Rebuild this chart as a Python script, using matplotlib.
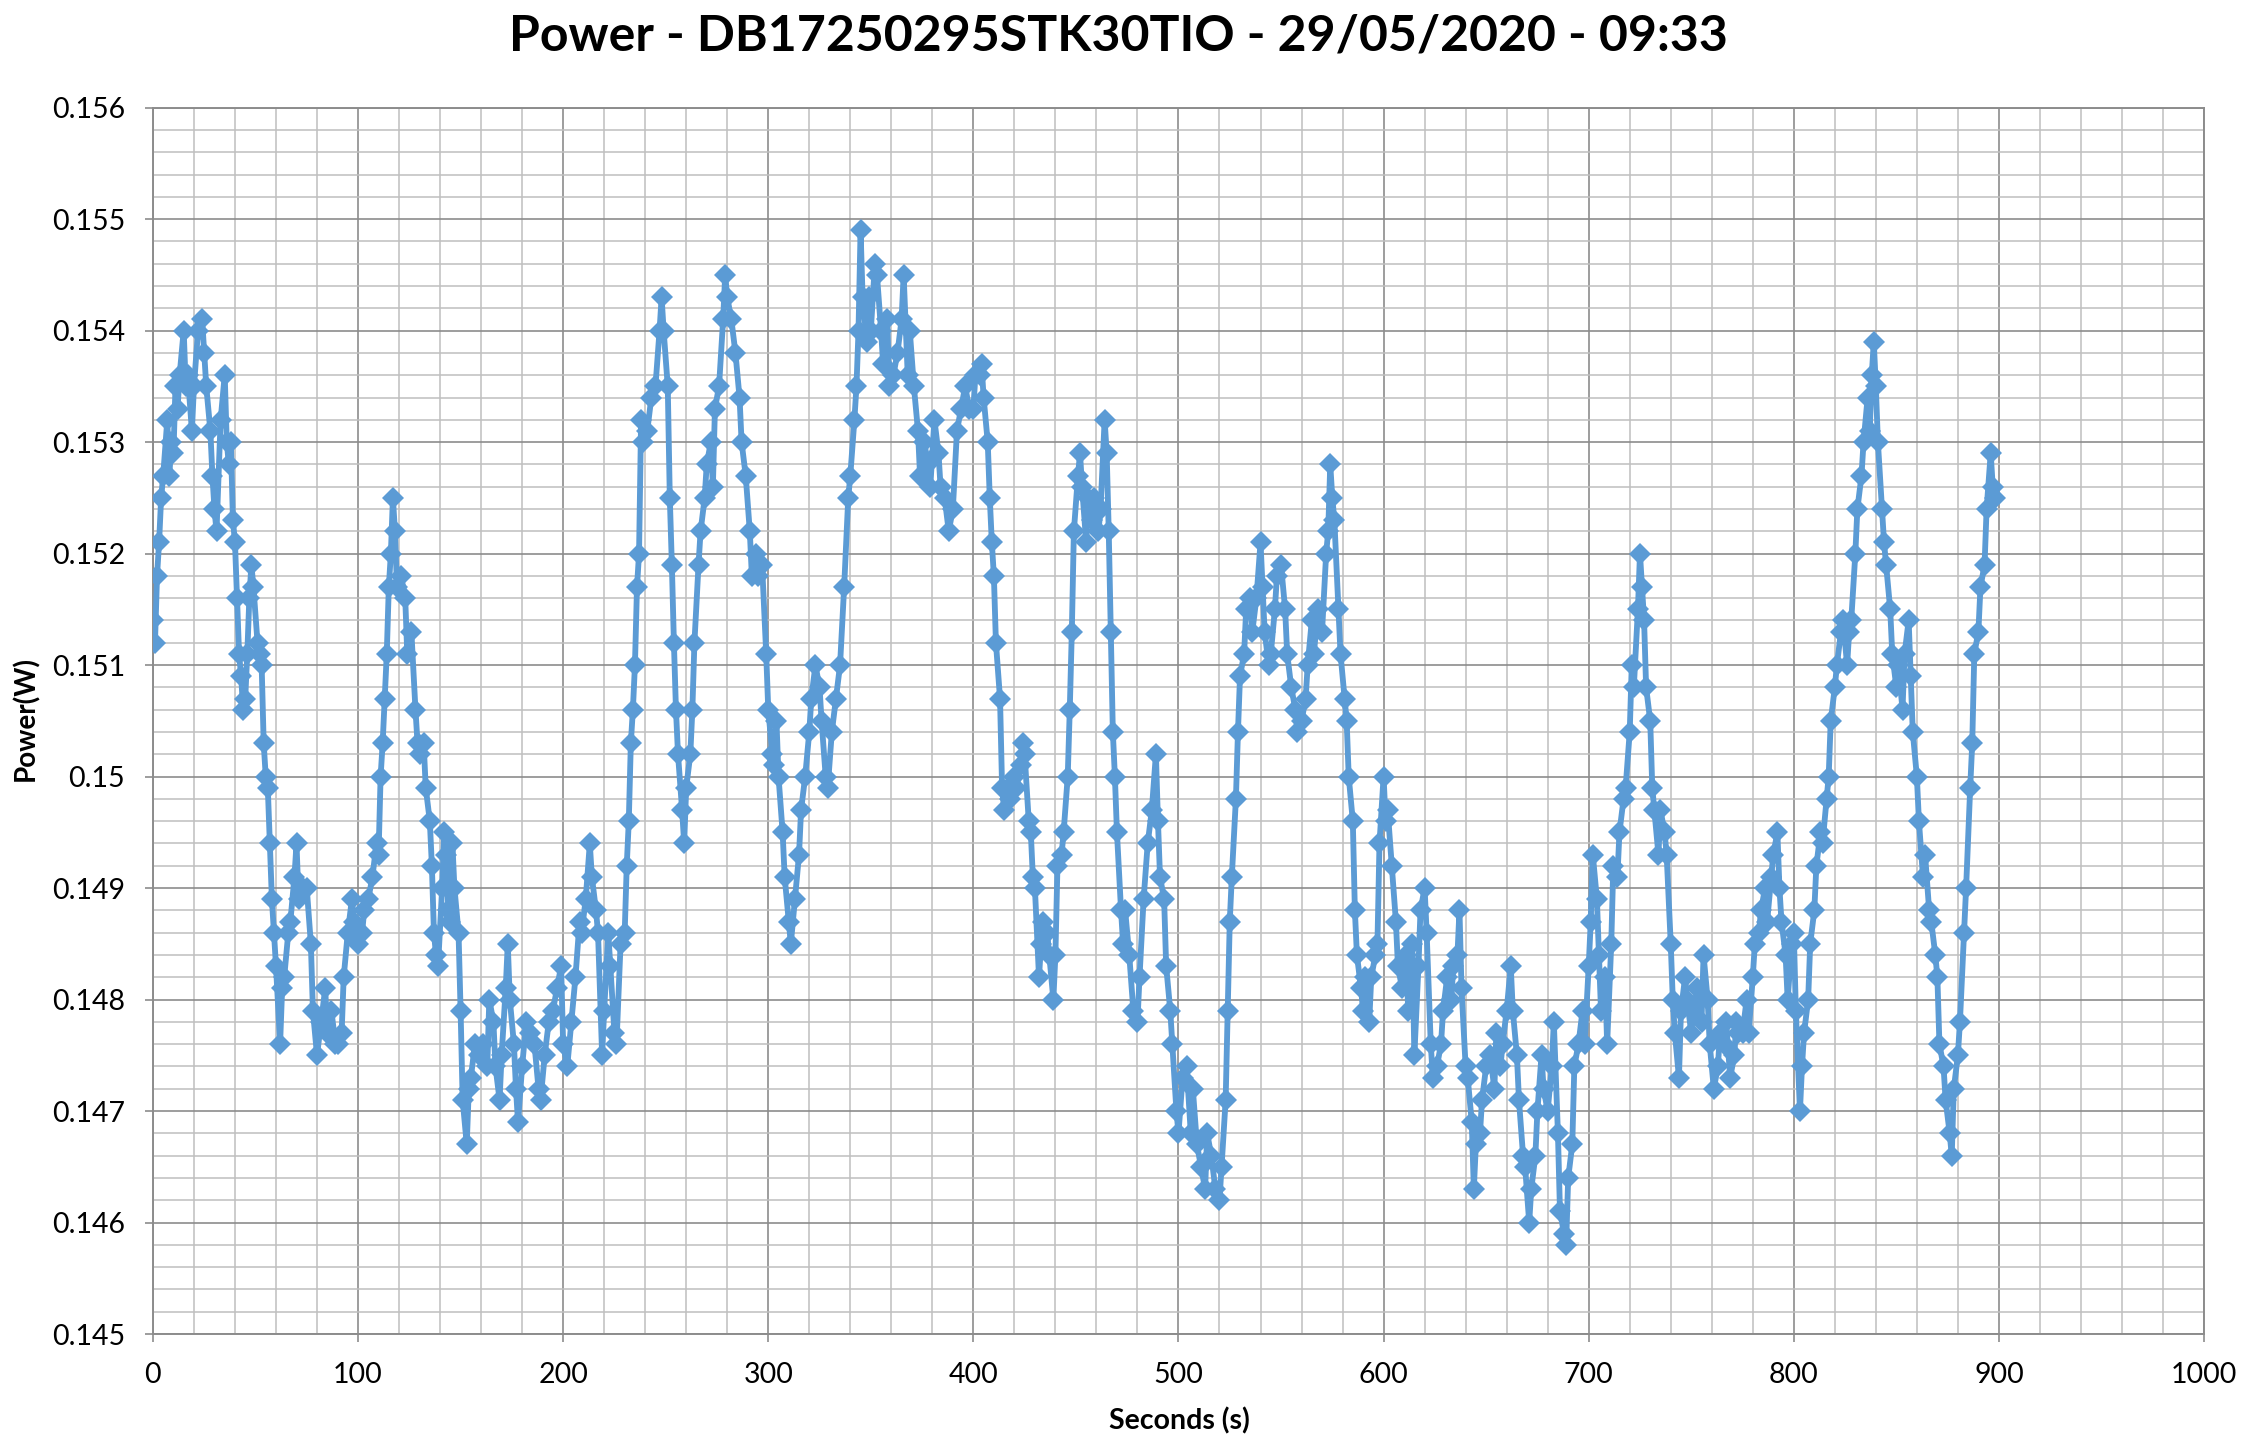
import numpy as np
import matplotlib.pyplot as plt
from matplotlib.ticker import MultipleLocator, FuncFormatter

# --- readings, per 100 s block: seconds and power in mW ------------------
t_000 = [0, 1, 2, 3, 4, 5, 7, 8, 9, 10,
         11, 12, 13, 15, 16, 17, 19, 20, 22, 24,
         25, 26, 28, 29, 30, 31, 33, 35, 36, 37,
         38, 39, 40, 41, 42, 43, 44, 45, 46, 47,
         48, 49, 51, 52, 53, 54, 55, 56, 57, 58,
         59, 60, 62, 63, 64, 66, 67, 69, 70, 71,
         73, 75, 77, 78, 80, 82, 84, 85, 87, 89,
         90, 92, 93, 95, 97, 98]
p_000 = [151.4, 151.2, 151.8, 152.1, 152.5, 152.7, 153.2, 152.7, 153.0, 152.9,
         153.5, 153.3, 153.6, 154.0, 153.5, 153.6, 153.1, 153.5, 154.0, 154.1,
         153.8, 153.5, 153.1, 152.7, 152.4, 152.2, 153.2, 153.6, 153.0, 152.8,
         153.0, 152.3, 152.1, 151.6, 151.1, 150.9, 150.6, 150.7, 151.1, 151.6,
         151.9, 151.7, 151.2, 151.1, 151.0, 150.3, 150.0, 149.9, 149.4, 148.9,
         148.6, 148.3, 147.6, 148.1, 148.2, 148.6, 148.7, 149.1, 149.4, 148.9,
         149.0, 149.0, 148.5, 147.9, 147.5, 147.8, 148.1, 147.7, 147.9, 147.6,
         147.6, 147.7, 148.2, 148.6, 148.9, 148.7]

t_100 = [100, 102, 103, 105, 107, 109, 110, 111, 112, 113,
         114, 115, 116, 117, 118, 119, 121, 123, 124, 126,
         128, 129, 130, 132, 133, 135, 136, 137, 138, 139,
         141, 142, 143, 144, 145, 146, 147, 149, 150, 151,
         153, 154, 155, 157, 159, 161, 163, 164, 166, 167,
         169, 170, 172, 173, 174, 176, 177, 178, 180, 182,
         184, 186, 188, 189, 191, 193, 195, 197, 199]
p_100 = [148.5, 148.6, 148.8, 148.9, 149.1, 149.4, 149.3, 150.0, 150.3, 150.7,
         151.1, 151.7, 152.0, 152.5, 152.2, 151.7, 151.8, 151.6, 151.1, 151.3,
         150.6, 150.3, 150.2, 150.3, 149.9, 149.6, 149.2, 148.6, 148.4, 148.3,
         149.0, 149.5, 149.3, 148.8, 148.7, 149.4, 149.0, 148.6, 147.9, 147.1,
         146.7, 147.2, 147.3, 147.6, 147.5, 147.6, 147.4, 148.0, 147.8, 147.4,
         147.1, 147.5, 148.1, 148.5, 148.0, 147.6, 147.2, 146.9, 147.4, 147.8,
         147.7, 147.6, 147.2, 147.1, 147.5, 147.8, 147.9, 148.1, 148.3]

t_200 = [200, 202, 204, 206, 208, 209, 211, 213, 214, 216,
         217, 219, 220, 222, 223, 225, 226, 228, 230, 231,
         232, 233, 234, 235, 236, 237, 238, 239, 241, 243,
         245, 247, 248, 249, 251, 252, 253, 254, 255, 256,
         258, 259, 260, 262, 263, 264, 266, 267, 269, 270,
         272, 273, 274, 276, 278, 279, 280, 282, 284, 286,
         287, 289, 291, 292, 294, 295, 297, 299]
p_200 = [147.6, 147.4, 147.8, 148.2, 148.7, 148.6, 148.9, 149.4, 149.1, 148.8,
         148.6, 147.5, 147.9, 148.6, 148.3, 147.7, 147.6, 148.5, 148.6, 149.2,
         149.6, 150.3, 150.6, 151.0, 151.7, 152.0, 153.2, 153.0, 153.1, 153.4,
         153.5, 154.0, 154.3, 154.0, 153.5, 152.5, 151.9, 151.2, 150.6, 150.2,
         149.7, 149.4, 149.9, 150.2, 150.6, 151.2, 151.9, 152.2, 152.5, 152.8,
         153.0, 152.6, 153.3, 153.5, 154.1, 154.5, 154.3, 154.1, 153.8, 153.4,
         153.0, 152.7, 152.2, 151.8, 152.0, 151.8, 151.9, 151.1]

t_300 = [300, 302, 303, 304, 305, 307, 308, 310, 311, 313,
         315, 316, 318, 320, 321, 323, 325, 326, 328, 329,
         331, 333, 335, 337, 339, 340, 342, 343, 344, 345,
         346, 348, 349, 350, 352, 353, 355, 356, 358, 359,
         361, 363, 365, 366, 368, 369, 371, 373, 374, 376,
         378, 379, 381, 383, 384, 386, 388, 390, 392, 394,
         396, 398]
p_300 = [150.6, 150.2, 150.1, 150.5, 150.0, 149.5, 149.1, 148.7, 148.5, 148.9,
         149.3, 149.7, 150.0, 150.4, 150.7, 151.0, 150.8, 150.5, 150.0, 149.9,
         150.4, 150.7, 151.0, 151.7, 152.5, 152.7, 153.2, 153.5, 154.0, 154.9,
         154.3, 153.9, 154.3, 154.0, 154.6, 154.5, 154.0, 153.7, 154.1, 153.5,
         153.6, 153.8, 154.1, 154.5, 153.6, 154.0, 153.5, 153.1, 152.7, 153.0,
         152.8, 152.6, 153.2, 152.9, 152.6, 152.5, 152.2, 152.4, 153.1, 153.3,
         153.5, 153.3]

t_400 = [400, 401, 403, 404, 405, 407, 408, 409, 410, 411,
         413, 414, 415, 417, 418, 420, 421, 423, 424, 425,
         427, 428, 429, 430, 432, 433, 434, 436, 437, 439,
         440, 441, 443, 444, 446, 447, 448, 449, 451, 452,
         453, 455, 456, 458, 459, 461, 462, 464, 465, 466,
         467, 468, 469, 470, 472, 473, 474, 476, 478, 480,
         481, 483, 485, 487, 489, 490, 491, 493, 494, 496,
         497, 499]
p_400 = [153.3, 153.6, 153.6, 153.7, 153.4, 153.0, 152.5, 152.1, 151.8, 151.2,
         150.7, 149.9, 149.7, 149.9, 149.8, 150.0, 149.9, 150.1, 150.3, 150.2,
         149.6, 149.5, 149.1, 149.0, 148.2, 148.5, 148.7, 148.6, 148.4, 148.0,
         148.4, 149.2, 149.3, 149.5, 150.0, 150.6, 151.3, 152.2, 152.7, 152.9,
         152.6, 152.1, 152.5, 152.3, 152.5, 152.2, 152.4, 153.2, 152.9, 152.2,
         151.3, 150.4, 150.0, 149.5, 148.8, 148.5, 148.8, 148.4, 147.9, 147.8,
         148.2, 148.9, 149.4, 149.7, 150.2, 149.6, 149.1, 148.9, 148.3, 147.9,
         147.6, 147.0]

t_500 = [500, 502, 504, 506, 507, 509, 511, 513, 514, 516,
         518, 520, 521, 523, 524, 525, 526, 528, 529, 530,
         532, 533, 535, 536, 538, 540, 541, 542, 544, 545,
         547, 548, 550, 552, 553, 555, 557, 558, 560, 562,
         563, 565, 566, 568, 570, 572, 573, 574, 575, 576,
         578, 579, 581, 582, 583, 585, 586, 587, 589, 590,
         591, 593, 594, 596, 597, 598]
p_500 = [146.8, 147.3, 147.4, 146.8, 147.2, 146.7, 146.5, 146.3, 146.8, 146.6,
         146.3, 146.2, 146.5, 147.1, 147.9, 148.7, 149.1, 149.8, 150.4, 150.9,
         151.1, 151.5, 151.6, 151.3, 151.6, 152.1, 151.7, 151.3, 151.0, 151.1,
         151.5, 151.8, 151.9, 151.5, 151.1, 150.8, 150.6, 150.4, 150.5, 150.7,
         151.0, 151.4, 151.1, 151.5, 151.3, 152.0, 152.2, 152.8, 152.5, 152.3,
         151.5, 151.1, 150.7, 150.5, 150.0, 149.6, 148.8, 148.4, 148.1, 147.9,
         148.2, 147.8, 148.2, 148.4, 148.5, 149.4]

t_600 = [600, 601, 602, 604, 606, 607, 609, 611, 612, 614,
         615, 617, 618, 620, 621, 623, 624, 626, 628, 629,
         631, 633, 634, 636, 637, 638, 640, 641, 643, 644,
         645, 647, 648, 650, 652, 654, 655, 657, 658, 660,
         662, 663, 665, 666, 668, 669, 671, 672, 674, 675,
         677, 678, 680, 682, 683, 685, 686, 688, 689, 690,
         692, 693, 695, 697, 698]
p_600 = [150.0, 149.6, 149.7, 149.2, 148.7, 148.3, 148.1, 148.4, 147.9, 148.5,
         147.5, 148.3, 148.8, 149.0, 148.6, 147.6, 147.3, 147.4, 147.6, 147.9,
         148.2, 148.0, 148.3, 148.4, 148.8, 148.1, 147.4, 147.3, 146.9, 146.3,
         146.7, 146.8, 147.1, 147.4, 147.5, 147.2, 147.7, 147.4, 147.6, 147.9,
         148.3, 147.9, 147.5, 147.1, 146.6, 146.5, 146.0, 146.3, 146.6, 147.0,
         147.5, 147.2, 147.0, 147.4, 147.8, 146.8, 146.1, 145.9, 145.8, 146.4,
         146.7, 147.4, 147.6, 147.9, 147.6]

t_700 = [700, 701, 702, 704, 705, 706, 708, 709, 711, 712,
         714, 715, 717, 718, 720, 721, 722, 724, 725, 726,
         727, 728, 730, 731, 732, 734, 735, 737, 738, 740,
         741, 742, 744, 745, 747, 748, 750, 751, 753, 755,
         756, 758, 759, 761, 763, 764, 766, 767, 769, 771,
         772, 773, 775, 777, 778, 780, 781, 783, 784, 786,
         787, 789, 790, 792, 793, 794, 796, 797, 799]
p_700 = [148.3, 148.7, 149.3, 148.9, 148.4, 147.9, 148.2, 147.6, 148.5, 149.2,
         149.1, 149.5, 149.8, 149.9, 150.4, 151.0, 150.8, 151.5, 152.0, 151.7,
         151.4, 150.8, 150.5, 149.9, 149.7, 149.3, 149.7, 149.5, 149.3, 148.5,
         148.0, 147.7, 147.3, 147.9, 148.2, 148.0, 147.7, 147.9, 148.1, 147.8,
         148.4, 148.0, 147.6, 147.2, 147.4, 147.7, 147.6, 147.8, 147.3, 147.5,
         147.8, 147.7, 147.7, 148.0, 147.7, 148.2, 148.5, 148.6, 148.8, 149.0,
         148.7, 149.1, 149.3, 149.5, 149.0, 148.7, 148.4, 148.0, 148.5]

t_800 = [800, 801, 803, 804, 805, 807, 808, 810, 811, 813,
         814, 816, 817, 818, 820, 821, 823, 824, 826, 827,
         828, 830, 831, 833, 834, 836, 837, 838, 839, 840,
         841, 843, 844, 845, 847, 848, 850, 851, 853, 854,
         856, 857, 858, 860, 861, 863, 864, 866, 867, 869,
         870, 871, 873, 874, 876, 877, 878, 880, 881, 883,
         884, 886, 887, 888, 890, 891, 893, 894, 896, 897,
         898]
p_800 = [148.6, 147.9, 147.0, 147.4, 147.7, 148.0, 148.5, 148.8, 149.2, 149.5,
         149.4, 149.8, 150.0, 150.5, 150.8, 151.0, 151.3, 151.4, 151.0, 151.3,
         151.4, 152.0, 152.4, 152.7, 153.0, 153.4, 153.1, 153.6, 153.9, 153.5,
         153.0, 152.4, 152.1, 151.9, 151.5, 151.1, 150.8, 151.0, 150.6, 151.1,
         151.4, 150.9, 150.4, 150.0, 149.6, 149.1, 149.3, 148.8, 148.7, 148.4,
         148.2, 147.6, 147.4, 147.1, 146.8, 146.6, 147.2, 147.5, 147.8, 148.6,
         149.0, 149.9, 150.3, 151.1, 151.3, 151.7, 151.9, 152.4, 152.9, 152.6,
         152.5]

seconds = np.concatenate([t_000, t_100, t_200, t_300, t_400,
                          t_500, t_600, t_700, t_800])
power_w = np.concatenate([p_000, p_100, p_200, p_300, p_400,
                          p_500, p_600, p_700, p_800]) / 1000.0

TITLE = "Power - DB17250295STK30TIO - 29/05/2020 - 09:33"
FONT = "Lato"
BLUE = "#5B9BD5"

# --- figure ---------------------------------------------------------------
fig = plt.figure(figsize=(22.49, 14.45), dpi=100)
ax = fig.add_axes([0.068, 0.0768, 0.912, 0.8487])

ax.plot(seconds, power_w, color=BLUE, lw=4.2, marker="D", ms=11,
        mec=BLUE, mfc=BLUE, mew=0, zorder=3)

ax.set_xlim(0, 1000)
ax.set_ylim(0.145, 0.156)
ax.xaxis.set_major_locator(MultipleLocator(100))
ax.xaxis.set_minor_locator(MultipleLocator(20))
ax.yaxis.set_major_locator(MultipleLocator(0.001))
ax.yaxis.set_minor_locator(MultipleLocator(0.0002))
ax.yaxis.set_major_formatter(FuncFormatter(lambda v, p: f"{v:.3f}".rstrip("0")))

ax.grid(which="major", color="#8C8C8C", lw=1.2, zorder=1)
ax.grid(which="minor", color="#BFBFBF", lw=1.1, zorder=0)
ax.set_axisbelow(True)
for s in ax.spines.values():
    s.set_color("#8C8C8C")
    s.set_linewidth(1.4)

ax.tick_params(which="major", length=6, width=1.2, color="#8C8C8C",
               labelsize=20.5, pad=14)
ax.tick_params(which="minor", length=0)
for lab in ax.get_xticklabels() + ax.get_yticklabels():
    lab.set_fontfamily(FONT)

fig.text(0.4975, 0.975, TITLE, ha="center", va="center",
         fontsize=36, fontweight="bold", fontfamily=FONT)
fig.text(0.5245, 0.0166, "Seconds (s)", ha="center", va="center",
         fontsize=20.5, fontweight="bold", fontfamily=FONT)
fig.text(0.0116, 0.503, "Power(W)", ha="center", va="center", rotation=90,
         fontsize=20, fontweight="bold", fontfamily=FONT)

fig.savefig("out.png", dpi=100, facecolor="white")
